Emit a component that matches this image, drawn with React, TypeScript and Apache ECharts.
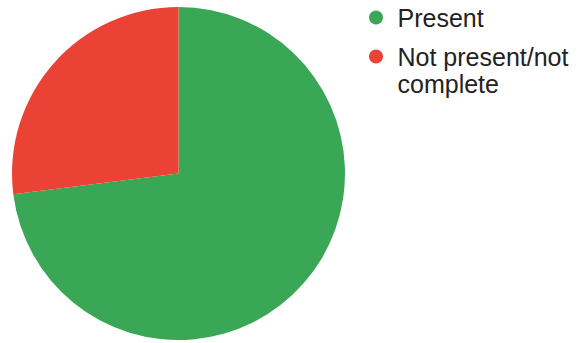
import React, { useEffect, useRef } from "react";
import * as echarts from "echarts";

const categories = ["Present", "Not present/not\ncomplete"];
const values = [73, 27];
const colors = ["#3aa757", "#ea4335"];

export default function App() {
  const ref = useRef<HTMLDivElement>(null);
  useEffect(() => {
    if (!ref.current) return;
    const chart = echarts.init(ref.current, undefined, { renderer: "svg" });
    chart.setOption({
      animation: false,
      backgroundColor: "#ffffff",
      legend: {
        orient: "vertical",
        left: 369,
        top: 4,
        padding: 0,
        icon: "circle",
        itemWidth: 33,
        itemHeight: 14,
        itemGap: -15,
        formatter: (name: string) => (name.indexOf("\n") >= 0 ? " \n" + name : name),
        textStyle: {
          fontFamily: "Liberation Sans, Arial, sans-serif",
          fontSize: 25,
          lineHeight: 27,
          color: "#222222",
        },
        data: categories,
      },
      series: [
        {
          type: "pie",
          center: [178.5, 173.5],
          radius: 166.5,
          startAngle: 90,
          clockwise: true,
          label: { show: false },
          labelLine: { show: false },
          silent: true,
          itemStyle: { borderWidth: 0 },
          data: categories.map((c, i) => ({
            name: c,
            value: values[i],
            itemStyle: { color: colors[i] },
          })),
        },
      ],
    });
    return () => chart.dispose();
  }, []);
  return (
    <div
      ref={ref}
      style={{ position: "fixed", left: 0, top: 0, width: 583, height: 343 }}
    />
  );
}
